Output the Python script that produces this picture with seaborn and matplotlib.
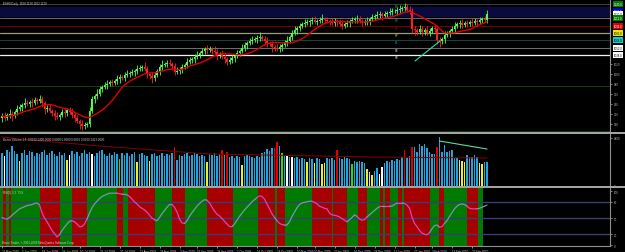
import matplotlib
matplotlib.use("Agg")
import matplotlib.pyplot as plt
import matplotlib.transforms as mtransforms
from matplotlib.lines import Line2D
import numpy as np
import pandas as pd
import seaborn as sns

# ---- price data (daily bars) ----
first_open = 912
closes = [
    916, 912, 918, 920, 916, 924, 930, 934, 938, 942, 940, 944, 942, 948, 946, 950, 942, 930, 932, 926,
    922, 916, 914, 918, 924, 922, 928, 924, 918, 912, 906, 900, 896, 898, 900, 926, 950, 956, 960, 970,
    974, 978, 980, 984, 982, 986, 990, 994, 992, 998, 1000, 1002, 1004, 1006, 1010, 1012, 1014, 1010, 1000, 996,
    992, 998, 1006, 1014, 1018, 1020, 1022, 1020, 1016, 1004, 1006, 1010, 1014, 1018, 1024, 1028, 1030, 1034, 1038, 1042,
    1046, 1050, 1048, 1050, 1046, 1044, 1038, 1040, 1034, 1030, 1024, 1028, 1032, 1036, 1042, 1046, 1052, 1058, 1062, 1066,
    1068, 1070, 1072, 1074, 1070, 1066, 1062, 1060, 1054, 1052, 1050, 1054, 1058, 1062, 1066, 1074, 1082, 1088, 1092, 1096,
    1100, 1102, 1104, 1106, 1108, 1104, 1106, 1108, 1110, 1108, 1106, 1104, 1102, 1106, 1104, 1100, 1096, 1100, 1102, 1106,
    1108, 1110, 1110, 1106, 1102, 1104, 1106, 1110, 1114, 1116, 1118, 1120, 1116, 1120, 1122, 1124, 1126, 1126, 1128, 1130,
    1132, 1134, 1128, 1126, 1090, 1088, 1084, 1090, 1084, 1088, 1082, 1086, 1092, 1090, 1068, 1066, 1070, 1078, 1080, 1086,
    1090, 1096, 1100, 1102, 1098, 1102, 1100, 1104, 1102, 1106, 1104, 1108, 1110, 1108, 1120,
]
# wick lengths in ticks beyond the body
wick_tick = 2.0
wick_up = [
    3, 4, 2, 5, 3, 2, 4, 3, 2, 5, 3, 2, 4, 3, 2, 4, 3, 2, 3, 4,
    2, 3, 4, 2, 3, 5, 2, 3, 4, 2, 3, 2, 4, 3, 2, 4, 3, 2, 5, 3,
    2, 3, 4, 2, 3, 2, 4, 3, 2, 3, 4, 2, 3, 2, 4, 3, 2, 5, 3, 2,
    4, 3, 2, 3, 5, 2, 3, 4, 2, 3, 4, 2, 3, 2, 4, 3, 2, 3, 4, 2,
    3, 2, 4, 3, 2, 5, 3, 2, 4, 3, 2, 3, 4, 2, 3, 2, 4, 3, 2, 3,
    4, 2, 3, 5, 2, 3, 4, 2, 3, 2, 4, 3, 2, 3, 5, 2, 3, 4, 2, 3,
    2, 4, 3, 2, 3, 4, 2, 3, 5, 2, 3, 2, 4, 3, 2, 3, 4, 2, 3, 2,
    3, 2, 4, 3, 2, 3, 4, 2, 3, 2, 4, 3, 2, 3, 2, 4, 3, 2, 3, 4,
    2, 4, 3, 4, 3, 3, 2, 4, 3, 2, 4, 3, 2, 3, 4, 3, 2, 4, 3, 2,
    3, 4, 2, 3, 4, 2, 3, 2, 4, 3, 2, 3, 2, 3, 4,
]
wick_dn = [
    4, 3, 2, 3, 5, 2, 3, 2, 4, 3, 2, 3, 4, 2, 3, 2, 4, 5, 3, 2,
    3, 4, 2, 3, 2, 4, 3, 2, 3, 4, 2, 5, 4, 3, 2, 3, 2, 4, 3, 2,
    3, 2, 4, 2, 3, 2, 3, 4, 2, 3, 2, 3, 2, 4, 3, 2, 3, 2, 4, 3,
    5, 3, 2, 4, 3, 2, 3, 2, 4, 3, 2, 3, 4, 2, 3, 2, 3, 4, 2, 3,
    2, 3, 4, 2, 3, 2, 5, 3, 2, 4, 3, 2, 3, 4, 2, 3, 2, 3, 4, 2,
    3, 2, 4, 3, 2, 3, 4, 2, 5, 3, 2, 3, 4, 2, 3, 2, 3, 2, 4, 3,
    2, 3, 2, 4, 3, 2, 3, 2, 3, 4, 2, 3, 2, 3, 4, 2, 3, 2, 3, 4,
    2, 3, 4, 2, 3, 2, 3, 4, 2, 3, 2, 3, 4, 2, 3, 2, 3, 2, 4, 3,
    2, 3, 2, 3, 4, 5, 3, 2, 4, 3, 2, 3, 2, 3, 4, 6, 3, 4, 2, 3,
    2, 3, 2, 4, 3, 2, 3, 2, 3, 2, 4, 2, 3, 2, 3,
]
ma_period = 14

# ---- volume (Better Volume) ----
volumes = [
    3300, 3000, 3600, 3400, 4000, 3500, 3200, 2500, 3300, 3600, 3100, 3500, 3400, 3000, 3300, 3200, 3400, 3600, 3100, 3300,
    3500, 3200, 3000, 3400, 3100, 3300, 2600, 3100, 3500, 3200, 3400, 3000, 3300, 3600, 3200, 3400, 3200, 3000, 3300, 3500,
    3600, 3200, 3000, 3300, 3100, 3400, 3200, 2700, 3300, 3100, 3300, 3000, 3200, 3400, 2400, 3200, 3300, 3100, 3000, 2500,
    3200, 3300, 3000, 3100, 3300, 3000, 3200, 3100, 3300, 3900, 2600, 3100, 3000, 3200, 3300, 3000, 3100, 3300, 3200, 3000,
    3100, 3000, 2400, 3200, 3100, 3300, 3000, 3200, 3600, 3100, 3400, 2900, 3000, 2800, 3000, 2900, 2100, 3000, 3100, 3000,
    2900, 2800, 3000, 2900, 3300, 3400, 3700, 3500, 3800, 3800, 4400, 4000, 3300, 3000, 3000, 2900, 2900, 2800, 2900, 2700,
    2800, 2700, 2400, 2800, 2700, 2300, 2800, 2700, 2200, 2300, 2800, 2700, 2800, 2600, 3600, 2800, 2700, 2900, 2800, 2700,
    2200, 2500, 2400, 2500, 2400, 2300, 1700, 1400, 1100, 1500, 1800, 1200, 1900, 2300, 2500, 2400, 2600, 2500, 2700, 2600,
    2900, 3600, 2800, 3000, 3900, 3900, 3400, 4200, 4000, 4200, 3800, 3400, 3200, 3200, 3900, 4900, 3400, 4100, 3400, 3500,
    3600, 2800, 2800, 2600, 2500, 2400, 3100, 2900, 2900, 3100, 2900, 2300, 2200, 2400, 2400,
]
# bars that are not plain blue: w=churn, y=low volume, r=climax, g=climax churn
vol_marks = {
    1: "w", 7: "y", 26: "y", 27: "w", 36: "w", 47: "g", 54: "y", 59: "y", 69: "r",
    82: "y", 88: "r", 90: "r", 96: "y", 109: "r", 110: "r", 112: "g", 114: "w", 116: "w",
    122: "y", 125: "y", 128: "y", 129: "y", 134: "r", 140: "g", 146: "y", 147: "y", 148: "y",
    151: "w", 152: "w", 161: "r", 164: "r", 174: "r", 183: "y", 184: "y", 185: "y",
    191: "y", 192: "y",
}
vol_ma_idx = [0, 7, 39, 83, 148, 194]
vol_ma_vals = [4900, 4700, 4000, 3200, 2900, 2800]
vol_trend_idx = [175, 194]
vol_trend_vals = [4500, 3700]

# ---- oscillator ----
osc_values = [
    51, 49, 48, 51, 55, 59, 63, 67, 69, 71, 73, 74, 75, 77, 78, 74, 60, 50, 43, 35,
    27, 21, 15, 19, 27, 33, 39, 44, 45, 43, 39, 34, 34, 39, 48, 59, 69, 76, 81, 86,
    90, 92, 94, 96, 96, 96, 96, 95, 94, 94, 93, 90, 85, 80, 76, 71, 68, 65, 61, 55,
    50, 47, 45, 51, 58, 64, 70, 75, 75, 70, 61, 48, 41, 40, 45, 53, 60, 66, 72, 77,
    81, 84, 83, 78, 70, 63, 57, 54, 49, 44, 39, 34, 34, 39, 46, 53, 59, 65, 70, 75,
    80, 84, 88, 91, 90, 85, 76, 67, 58, 51, 45, 40, 38, 37, 37, 43, 53, 61, 69, 75,
    78, 79, 80, 81, 81, 79, 76, 72, 70, 68, 67, 59, 56, 55, 54, 52, 49, 46, 43, 47,
    51, 56, 53, 48, 46, 47, 52, 56, 60, 64, 68, 71, 72, 72, 72, 72, 72, 75, 78, 78,
    78, 77, 74, 68, 52, 40, 34, 27, 22, 20, 19, 23, 30, 36, 37, 33, 34, 40, 45, 53,
    60, 67, 72, 75, 76, 75, 72, 68, 67, 67, 67, 68, 70, 72, 74,
]
osc_levels = [80, 50, 20]
band_edges = [
    -0.8, 0.5, 1.5, 2.8, 3.4, 15.2, 23.2, 28, 34, 46, 48.4, 50.4, 61.2, 68, 73.2, 82, 92.4,
    102.4, 109.2, 110, 113.2, 124, 132, 132.4, 138, 142.4, 146, 151.2, 152.4, 153.2, 155.2,
    158.4, 160, 160.8, 171.2, 174.8, 176.8, 186, 190.4, 192.5,
]
band_kind = ["g", "r"] * 19 + ["g"]

# ---- levels and drawn objects ----
pivot_names = ["R3", "R2", "R1", "PP", "S1", "S2", "S3"]
pivot_levels = [1140, 1112, 1096, 1082, 1068, 1052, 1038]
pivot_line_colors = ["#3c3c3c", "#6a6a6a", "#7a0000", "#9a9a80", "#104848", "#707070", "#f0f0f0"]
pivot_text_colors = ["#00c000", "#00c000", "#e00000", "#d0d040", "#00c8c8", "#ffffff", "#ffffff"]
extra_levels = [976, 886]
price_trend_idx = [165.2, 175.2]
price_trend_vals = [1026, 1066]
box_levels = [1140, 1126, 1120, 1112, 1096, 1082, 1068, 1052, 1038]
box_fill = ["#008000", "#0000d0", "#ffffff", "#008000", "#e00000", "#e8e800", "#00d0d0", "#ffffff", "#ffffff"]
box_text = ["#ffffff", "#ffffff", "#000000", "#ffffff", "#ffffff", "#000000", "#000000", "#000000", "#000000"]
price_ticks = [900, 920, 940, 960, 980, 1000, 1020]

date_ticks = [0, 8, 16, 24, 31, 39, 47, 55, 63, 71, 78, 86, 94, 102, 110, 118, 125, 133, 141, 149, 157, 165, 172, 180, 188]
date_labels = [
    "21 May 2009", "5 Jun 2009", "18 Jun 2009", "29 Jun 2009", "10 Jul 2009", "21 Jul 2009",
    "30 Jul 2009", "11 Aug 2009", "24 Aug 2009", "3 Sep 2009", "16 Sep 2009", "28 Sep 2009",
    "7 Oct 2009", "16 Oct 2009", "29 Oct 2009", "10 Nov 2009", "20 Nov 2009", "3 Dec 2009",
    "16 Dec 2009", "29 Dec 2009", "11 Jan 2010", "21 Jan 2010", "3 Feb 2010", "12 Feb 2010",
    "25 Feb 2010",
]

# ---- styling ----
sns.set_theme(style="dark", rc={
    "figure.facecolor": "black", "axes.facecolor": "black", "savefig.facecolor": "black",
    "axes.edgecolor": "#909090", "axes.grid": False,
})
plt.rcParams["font.family"] = ["Liberation Sans Narrow", "Liberation Sans", "DejaVu Sans"]

BULL, BEAR = "#4cff4c", "#ff2020"
VOL_COLORS = {"b": "#22a4dc", "r": "#e00000", "y": "#f0f020", "w": "#ffffff", "g": "#20e020"}
BAND_COLORS = {"g": "#007a00", "r": "#a60000"}
LINE_COLORS = {"g": "#8090b8", "r": "#e040b8"}
TXT = "#d0d0d0"
FS = 2.1

W, H = 625, 253
fig = plt.figure(figsize=(W / 100, H / 100), dpi=100)


def px_box(x0, y0, x1, y1):
    return [x0 / W, 1 - y1 / H, (x1 - x0) / W, (y1 - y0) / H]


ax_p = fig.add_axes(px_box(0, 0, 610, 133))
ax_v = fig.add_axes(px_box(0, 135, 610, 187))
ax_o = fig.add_axes(px_box(0, 189, 610, 247))

n = len(closes)
idx = np.arange(n)
df = pd.DataFrame({"close": closes, "up": wick_up, "dn": wick_dn, "vol": volumes, "osc": osc_values})
df["open"] = [first_open] + closes[:-1]
df["high"] = df[["open", "close"]].max(axis=1) + df["up"] * wick_tick
df["low"] = df[["open", "close"]].min(axis=1) - df["dn"] * wick_tick
df["ma"] = df["close"].rolling(ma_period, min_periods=1).mean()

for ax in (ax_p, ax_v, ax_o):
    ax.set_xlim(-0.8, 243.2)
    for side in ("top", "left", "bottom"):
        ax.spines[side].set_visible(False)
    ax.spines["right"].set_color("#909090")
    ax.spines["right"].set_linewidth(0.8)
    ax.yaxis.tick_right()
    ax.tick_params(axis="y", labelsize=FS, colors="#b0b0b0", length=1.5, width=0.5, pad=1)
    ax.tick_params(axis="x", bottom=False, labelbottom=False)

# ---- price panel ----
ax_p.set_ylim(884, 1150)
ax_p.axhspan(1116, 1134, color="#0a0a3c", zorder=0)
for lvl, lc in zip(pivot_levels, pivot_line_colors):
    ax_p.axhline(lvl, color=lc, lw=0.9 if lc in ("#f0f0f0", "#9a9a80") else 0.7, zorder=1)
for lvl in extra_levels:
    ax_p.axhline(lvl, color="#0e400e", lw=0.7, zorder=1)
for name, lvl, tc in zip(pivot_names, pivot_levels, pivot_text_colors):
    ax_p.text(157, lvl - 1, name, color=tc, fontsize=FS, va="top", ha="left", zorder=2)

colors = np.where(df["close"] >= df["open"], BULL, BEAR)
ax_p.vlines(idx, df["low"], df["high"], colors=colors, lw=0.6, zorder=3)
body = (df["close"] - df["open"]).where(lambda s: s.abs() > 0.6, 0.6)
ax_p.bar(idx, body, bottom=df["open"], width=0.65, color=colors, linewidth=0, zorder=4)
sns.lineplot(x=idx, y=df["ma"], ax=ax_p, color="#e00000", lw=1.0, zorder=5)
sns.lineplot(x=price_trend_idx, y=price_trend_vals, ax=ax_p, color="#40d8a0", lw=0.8, zorder=5)

ax_p.set_yticks(price_ticks)
ax_p.set_yticklabels([str(v) for v in price_ticks])
ax_p.set_xlabel("")
ax_p.set_ylabel("")
blend_p = mtransforms.blended_transform_factory(ax_p.transAxes, ax_p.transData)
for lvl, fc, tc in zip(box_levels, box_fill, box_text):
    ax_p.text(1.006, lvl, f"{lvl:.1f}", transform=blend_p, fontsize=2.0, color=tc, va="center", ha="left",
              bbox=dict(boxstyle="square,pad=0.3", fc=fc, ec="none"), clip_on=False, zorder=6)
ax_p.text(0.005, 0.985, f"ESH0,Daily  {df['open'].iloc[-1]:.0f} {df['high'].iloc[-1]:.0f} "
          f"{df['low'].iloc[-1]:.0f} {df['close'].iloc[-1]:.0f}",
          transform=ax_p.transAxes, fontsize=FS, color=TXT, va="top", ha="left")

# ---- volume panel ----
ax_v.set_ylim(0, 5200)
vcols = [VOL_COLORS[vol_marks.get(i, "b")] for i in idx]
ax_v.bar(idx, df["vol"], width=0.7, color=vcols, linewidth=0, zorder=2)
sns.lineplot(x=vol_ma_idx, y=vol_ma_vals, ax=ax_v, color="#8a0000", lw=0.7, zorder=3)
sns.lineplot(x=vol_trend_idx, y=vol_trend_vals, ax=ax_v, color="#50e0a0", lw=0.8, zorder=3)
ax_v.set_yticks([0, 4800])
ax_v.set_yticklabels(["0", "4800"])
ax_v.set_xlabel("")
ax_v.set_ylabel("")
ax_v.text(0.005, 0.95, "Better Volume 1.5  0.0000 2400.0000 0.0000 0.0000 0.0000 0.0000 2413.0000",
          transform=ax_v.transAxes, fontsize=FS, color=TXT, va="top", ha="left")

# ---- oscillator panel ----
ax_o.set_ylim(-1.8, 105.6)
for s, e, k in zip(band_edges[:-1], band_edges[1:], band_kind):
    ax_o.axvspan(s, e, color=BAND_COLORS[k], lw=0, zorder=0)
for lvl in osc_levels:
    ax_o.axhline(lvl, color="#34407e", lw=1.0, zorder=1)

mids = idx[:-1] + 0.5
seg_kind = [band_kind[min(max(np.searchsorted(band_edges, m) - 1, 0), len(band_kind) - 1)] for m in mids]
start = 0
for i in range(1, len(seg_kind) + 1):
    if i == len(seg_kind) or seg_kind[i] != seg_kind[start]:
        run = df.iloc[start:i + 1]
        sns.lineplot(x=run.index, y=run["osc"], ax=ax_o, color=LINE_COLORS[seg_kind[start]], lw=0.9, zorder=3)
        start = i

ax_o.set_yticks([0, 20, 50, 80, 100])
ax_o.set_yticklabels(["0", "20", "50", "80", "100"])
ax_o.set_ylabel("")
ax_o.spines["bottom"].set_visible(True)
ax_o.spines["bottom"].set_color("#909090")
ax_o.spines["bottom"].set_linewidth(0.8)
ax_o.set_xticks(date_ticks)
ax_o.set_xticklabels(date_labels, ha="left")
ax_o.tick_params(axis="x", bottom=True, labelbottom=True, labelsize=FS, colors=TXT, length=1.5,
                 width=0.5, pad=0.6)
ax_o.set_xlabel("")
ax_o.text(0.005, 0.96, "RSI(5) 5,3  73.9", transform=ax_o.transAxes, fontsize=FS, color=TXT,
          va="top", ha="left")
ax_o.text(0.003, 0.03, "Broco Trader, \u00a9 2001-2009 MetaQuotes Software Corp.", transform=ax_o.transAxes,
          fontsize=FS, color=TXT, va="bottom", ha="left", zorder=4)

# panel separators
for yy in (134, 188):
    fig.add_artist(Line2D([0, 1], [1 - yy / H] * 2, color="#a8a8a8", lw=1.4))

fig.savefig("out.png", dpi=100, facecolor="black")
